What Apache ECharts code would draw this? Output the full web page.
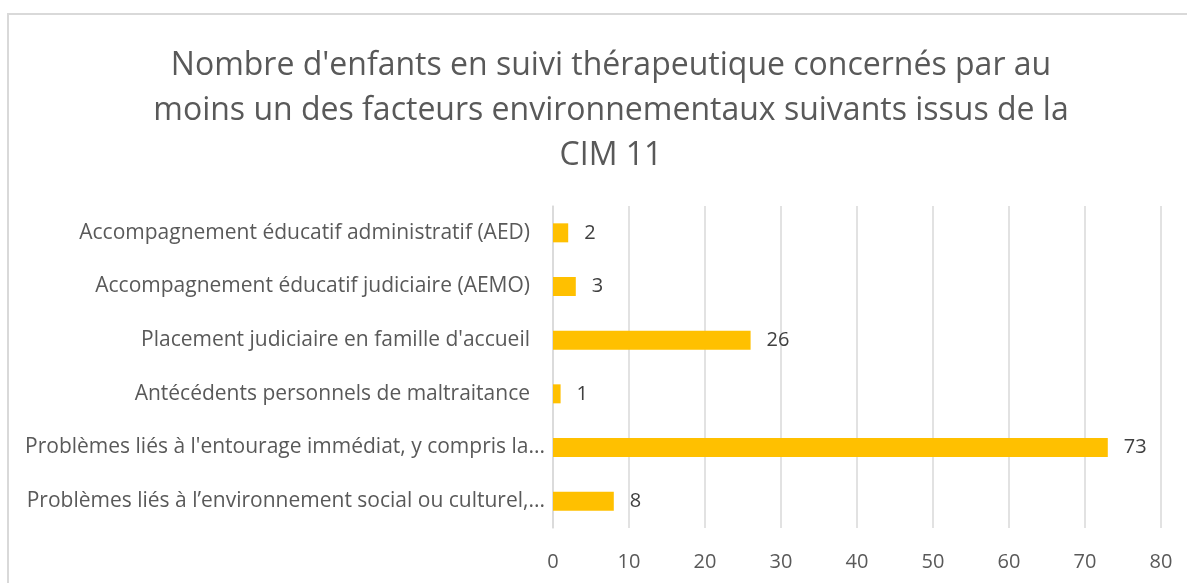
<!DOCTYPE html>
<html>
<head>
<meta charset="utf-8">
<script src="https://cdn.jsdelivr.net/npm/echarts@6/dist/echarts.min.js"></script>
<style>
  html, body { margin: 0; padding: 0; background: #fff; }
  #container { width: 1187px; height: 583px; }
</style>
</head>
<body>
<div id="container"></div>
<script>
// categories from top to bottom as in the picture
var categories = [
    "Accompagnement éducatif administratif (AED)",
    "Accompagnement éducatif judiciaire (AEMO)",
    "Placement judiciaire en famille d'accueil",
    "Antécédents personnels de maltraitance",
    "Problèmes liés à l'entourage immédiat, y compris la...",
    "Problèmes liés à l’environnement social ou culturel,..."
];
var values = [2, 3, 26, 1, 73, 8];
var xTicks = { min: 0, max: 80, interval: 10 };

var titleText = "Nombre d'enfants en suivi thérapeutique concernés par au\n" +
    "moins un des facteurs environnementaux suivants issus de la\nCIM 11";

var myChart = echarts.init(document.getElementById('container'));
var option = {
    animation: false,
    textStyle: { fontFamily: 'Open Sans' },
    title: {
        text: titleText,
        left: 606,
        textAlign: 'center',
        top: 38,
        textStyle: {
            color: '#595959',
            fontSize: 32,
            fontWeight: 'normal',
            lineHeight: 45
        }
    },
    graphic: [{
        type: 'rect',
        shape: { x: 8, y: 14, width: 1200, height: 600 },
        style: { fill: 'none', stroke: '#d9d9d9', lineWidth: 2 },
        silent: true
    }],
    grid: {
        left: 553,
        right: 26,
        top: 206,
        bottom: 55
    },
    xAxis: {
        type: 'value',
        min: xTicks.min,
        max: xTicks.max,
        interval: xTicks.interval,
        axisLine: { show: false },
        axisTick: { show: false },
        axisLabel: { color: '#595959', fontSize: 20, margin: 24 },
        splitLine: { lineStyle: { color: '#d9d9d9', width: 1.5 } }
    },
    yAxis: {
        type: 'category',
        inverse: true,
        data: categories,
        axisLine: { show: true, lineStyle: { color: '#d9d9d9', width: 1.5 } },
        axisTick: { show: false },
        axisLabel: {
            color: '#595959',
            fontSize: 21,
            margin: 8,
            formatter: function (v) {
                // Excel pushes the cut labels a little further right
                return v.slice(-3) === '...' ? '{t|' + v + '}' : '{n|' + v + '}';
            },
            rich: {
                t: { fontSize: 21, color: '#595959' },
                n: { fontSize: 21, color: '#595959', padding: [0, 15, 0, 0] }
            }
        }
    },
    series: [{
        type: 'bar',
        data: values,
        barWidth: 19,
        itemStyle: { color: '#FFC000' },
        label: {
            show: true,
            position: 'right',
            distance: 16,
            color: '#404040',
            fontSize: 20
        }
    }]
};
myChart.setOption(option);
</script>
</body>
</html>
